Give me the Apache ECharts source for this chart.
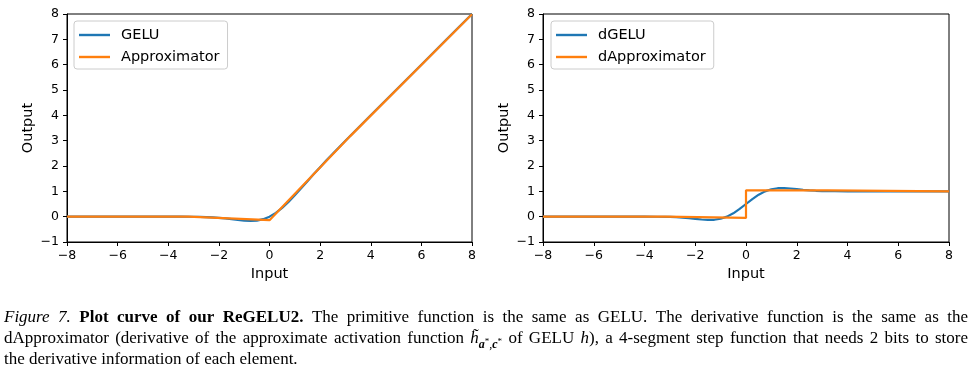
<!DOCTYPE html>
<html>
<head>
<meta charset="utf-8">
<script src="https://cdn.jsdelivr.net/npm/echarts@6/dist/echarts.min.js"></script>
<style>html,body{margin:0;padding:0;background:#fff}#c{width:980px;height:381px}</style>
</head>
<body>
<div id="c"></div>
<script>
// ---- data ----
const xSamples = [-8,-6,-4,-3.5,-3,-2.75,-2.5,-2.25,-2,-1.75,-1.5,-1.25,-1,-0.75,-0.5,-0.25,0,0.25,0.5,0.75,1,1.25,1.5,1.75,2,2.25,2.5,2.75,3,3.5,4,5,6,7,8];
const geluY = [0,0,-0.0001,-0.0008,-0.004,-0.008,-0.016,-0.027,-0.045,-0.070,-0.100,-0.132,-0.159,-0.170,-0.154,-0.100,0,0.150,0.346,0.580,0.841,1.118,1.400,1.680,1.955,2.223,2.484,2.742,2.996,3.499,4.0,5,6,7,8];
const dgeluY = [0,0,-0.0005,-0.003,-0.012,-0.022,-0.038,-0.059,-0.085,-0.111,-0.128,-0.123,-0.083,0.001,0.132,0.305,0.5,0.695,0.868,0.999,1.083,1.123,1.128,1.111,1.085,1.059,1.038,1.022,1.012,1.003,1.0,1,1,1,1];
const approxX = [-8,-3.2,0,3.2,8];
const approxY = [0,0,-0.14,3.19,7.99];
const dApproxX = [-8,-3.2,-3.2,0,0,3.2,3.2,8];
const dApproxY = [0,0,-0.05,-0.05,1.04,1.04,1.0,1.0];
const xTicks = [-8,-6,-4,-2,0,2,4,6,8];
const xTickLabels = ['\u22128','\u22126','\u22124','\u22122','0','2','4','6','8'];
const yTicks = [-1,0,1,2,3,4,5,6,7,8];
const yTickLabels = ['\u22121','0','1','2','3','4','5','6','7','8'];
const leftNames = ['GELU','Approximator'];
const rightNames = ['dGELU','dApproximator'];
const captionLines = [
  '{i|Figure} {i|7.} {b|Plot} {b|curve} {b|of} {b|our} {b|ReGELU2.} The primitive function is the same as GELU. The derivative function is the same as the',
  'dApproximator (derivative of the approximate activation function {m|h\u0303}{sb|a}{ss|*}{sn|,}{sb|c}{ss|*} of GELU {m|h}), a 4-segment step function that needs 2 bits to store',
  'the derivative information of each element.'
];

const BLUE = '#1f77b4', ORANGE = '#ff7f0e';
const FONT = 'DejaVu Sans';
const pairs = (xs, ys) => xs.map((x, i) => [x, ys[i]]);

function xAxisCfg(gi) {
  return {
    type: 'value', gridIndex: gi, min: -8, max: 8, interval: 2,
    name: 'Input', nameLocation: 'middle', nameGap: 24,
    nameTextStyle: {fontFamily: FONT, fontSize: 14.5, color: '#000'},
    axisLine: {onZero: false, lineStyle: {color: '#000', width: 1}},
    axisTick: {show: true, length: 4, lineStyle: {color: '#000'}},
    axisLabel: {color: '#000', fontFamily: FONT, fontSize: 12.5, margin: 7,
      formatter: v => xTickLabels[xTicks.indexOf(v)]},
    splitLine: {show: false}
  };
}
function yAxisCfg(gi) {
  return {
    type: 'value', gridIndex: gi, min: -1, max: 8, interval: 1,
    name: 'Output', nameLocation: 'middle', nameGap: 31,
    nameTextStyle: {fontFamily: FONT, fontSize: 14.5, color: '#000'},
    axisLine: {onZero: false, lineStyle: {color: '#000', width: 1}},
    axisTick: {show: true, length: 4, lineStyle: {color: '#000'}},
    axisLabel: {color: '#000', fontFamily: FONT, fontSize: 12.5, margin: 8,
      formatter: v => yTickLabels[yTicks.indexOf(v)]},
    splitLine: {show: false}
  };
}
function lineSeries(name, data, color, gi) {
  return {
    name, type: 'line', data, xAxisIndex: gi, yAxisIndex: gi,
    symbol: 'none', showSymbol: false, animation: false,
    lineStyle: {color, width: 2.2}, itemStyle: {color},
    emphasis: {disabled: true}
  };
}
function legendCfg(names, left) {
  return {
    data: names, orient: 'vertical', left, top: 21,
    icon: 'path://M0,0L31,0L31,2.4L0,2.4Z',
    itemWidth: 31, itemHeight: 2.4, itemGap: 6,
    padding: [6, 8, 4, 5],
    backgroundColor: 'rgba(255,255,255,0.8)', borderColor: '#cccccc', borderWidth: 1, borderRadius: 3,
    textStyle: {fontFamily: FONT, fontSize: 14.5, lineHeight: 16, color: '#000', padding: [0, 0, 0, 6]},
    selectedMode: false
  };
}

// ---- caption layout (justified) ----
const STY = {
  n:  {font: '17px "Liberation Serif"', size: 17, dy: 0},
  i:  {font: 'italic 17px "Liberation Serif"', size: 17, dy: 0},
  b:  {font: 'bold 17px "Liberation Serif"', size: 17, dy: 0},
  m:  {font: 'italic 17px "Liberation Serif"', size: 17, dy: 0},
  sb: {font: 'bold italic 12px "Liberation Serif"', size: 12, dy: 4},
  sn: {font: '12px "Liberation Serif"', size: 12, dy: 4},
  ss: {font: '9px "Liberation Serif"', size: 9, dy: 0}
};
const mctx = document.createElement('canvas').getContext('2d');
function measure(font, t) { mctx.font = font; return mctx.measureText(t).width; }
function parseWord(w) {
  const segs = []; const re = /\{(\w+)\|([^}]*)\}|([^{]+)/g; let m;
  while ((m = re.exec(w))) { if (m[1]) segs.push([m[1], m[2]]); else segs.push(['n', m[3]]); }
  return segs;
}
const capLeft = 4, capRight = 968, baselines = [323, 344.5, 365.5];
const graphics = [];
captionLines.forEach((line, li) => {
  const words = line.split(' ').map(parseWord);
  const widths = words.map(segs => segs.reduce((s, [k, t]) => s + measure(STY[k].font, t), 0));
  const total = widths.reduce((a, b) => a + b, 0);
  const justify = li < captionLines.length - 1;
  const gap = justify ? (capRight - capLeft - total) / (words.length - 1) : measure(STY.n.font, ' ');
  let x = capLeft;
  words.forEach((segs, wi) => {
    let sx = x;
    segs.forEach(([k, t]) => {
      const st = STY[k];
      graphics.push({
        type: 'text', silent: true,
        style: {text: t, x: sx, y: baselines[li] - 0.3375 * st.size + st.dy, font: st.font,
          fill: '#000', align: 'left', verticalAlign: 'middle'}
      });
      sx += measure(st.font, t);
    });
    x += widths[wi] + gap;
  });
});

const chart = echarts.init(document.getElementById('c'), null, {renderer: 'canvas'});
chart.setOption({
  backgroundColor: '#fff',
  animation: false,
  grid: [
    {left: 67, top: 14, width: 405, height: 228, show: true, borderColor: '#000', borderWidth: 1, backgroundColor: 'transparent'},
    {left: 543, top: 14, width: 406, height: 228, show: true, borderColor: '#000', borderWidth: 1, backgroundColor: 'transparent'}
  ],
  xAxis: [xAxisCfg(0), xAxisCfg(1)],
  yAxis: [yAxisCfg(0), yAxisCfg(1)],
  legend: [legendCfg(leftNames, 74), legendCfg(rightNames, 551)],
  series: [
    lineSeries(leftNames[0], pairs(xSamples, geluY), BLUE, 0),
    lineSeries(leftNames[1], pairs(approxX, approxY), ORANGE, 0),
    lineSeries(rightNames[0], pairs(xSamples, dgeluY), BLUE, 1),
    lineSeries(rightNames[1], pairs(dApproxX, dApproxY), ORANGE, 1)
  ],
  graphic: graphics
});
</script>
</body>
</html>
